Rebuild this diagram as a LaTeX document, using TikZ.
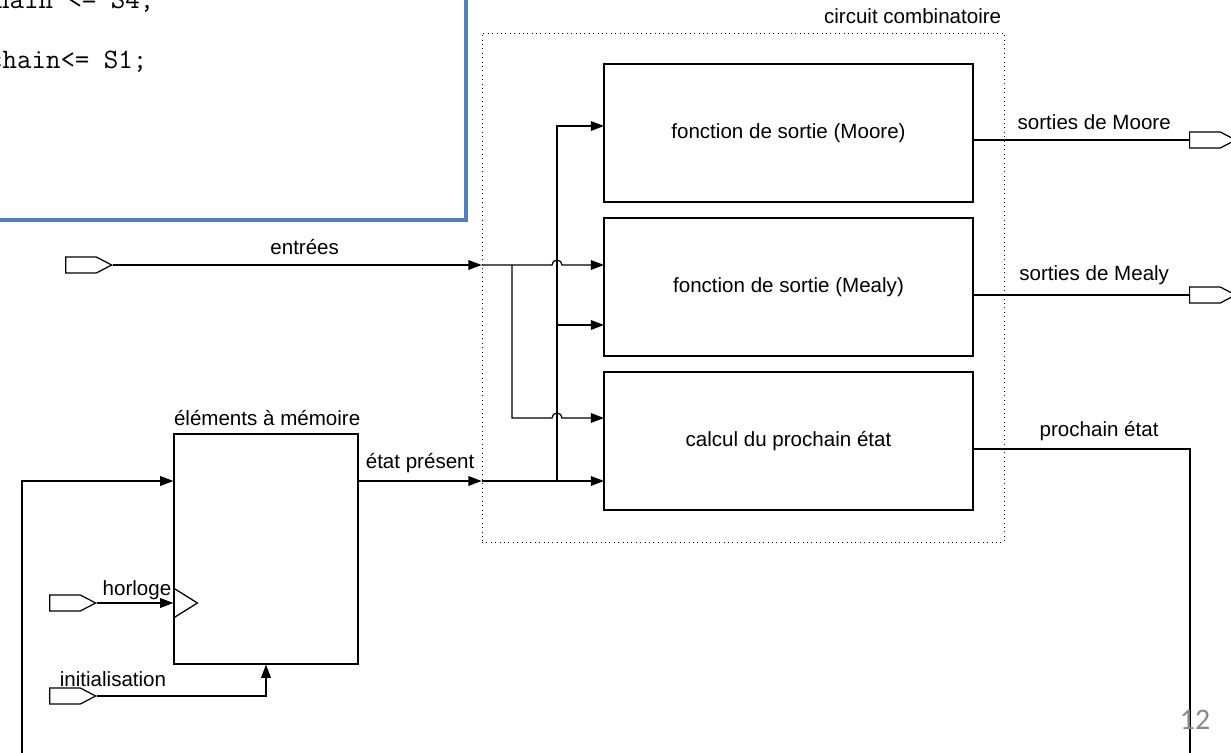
\documentclass[tikz,border=0pt]{standalone}
\usepackage{fontspec}
\setmainfont{Liberation Sans}
\newfontfamily\numfont{Carlito}
\usetikzlibrary{arrows.meta,shapes.symbols}
\definecolor{cadre}{RGB}{79,129,189}
\definecolor{numero}{RGB}{137,137,137}
\tikzset{
  bloc/.style={draw,minimum width=7.38cm,minimum height=2.76cm},
  port/.style={draw,shape=signal,signal to=east,signal pointer angle=55,
    minimum width=0.92cm,minimum height=0.32cm,inner sep=0pt},
  fil/.style={-{Triangle[length=7.5pt,width=5.5pt]}},
  etiq/.style={inner sep=1.5pt},
  code/.style={anchor=base east,inner sep=0pt,font=\ttfamily\fontsize{16}{18}\selectfont}
}
\begin{document}
\begin{tikzpicture}[x=0.02cm,y=-0.02cm,line width=0.7pt,
  font=\fontsize{11.7}{13}\selectfont]
\useasboundingbox (0,0) rectangle (1231,753);
\clip (0,0) rectangle (1231,753);

% code du diapo precedent
\draw[cadre,line width=2.2pt,fill=white] (-20,-20) rectangle (466,220);
\node[code] (code1) at (155,9) {prochain <= S4;};
\node[code] (code2) at (148,69) {prochain<= S1;};

% blocs
\node[draw,dotted,line width=0.5pt,minimum width=10.44cm,minimum height=10.18cm] (comb) at (743,287.5) {};
\node[anchor=south east,etiq,yshift=3pt] (lcomb) at (comb.north east) {circuit combinatoire};
\node[bloc] (moore) at (788.5,133) {fonction de sortie (Moore)};
\node[bloc] (mealy) at (788.5,287) {fonction de sortie (Mealy)};
\node[bloc] (suivant) at (788.5,441) {calcul du prochain état};
\node[draw,minimum width=3.68cm,minimum height=4.6cm] (memoire) at (266,549) {};
\node[anchor=south west,inner xsep=0pt,inner ysep=4pt] (lmem) at (memoire.north west) {éléments à mémoire};

% ports
\node[port,anchor=east] (pe) at (113,265) {};
\node[port,anchor=east] (ph) at (97,603) {};
\node[port,anchor=east] (pi) at (97,696) {};
\node[port,anchor=west] (pmo) at (1189,140) {};
\node[port,anchor=west] (pme) at (1189,295) {};

% points de connexion
\coordinate (in1) at (604,126);
\coordinate (in2) at (604,265);
\coordinate (in3) at (604,325);
\coordinate (in4) at (604,418);
\coordinate (in5) at (604,481);
\coordinate (fourche) at (512,265);
\coordinate (bus) at (557,481);
\coordinate (coin) at (1190,449);
\coordinate (fin) at (1190,770);
\coordinate (gauche) at (22,770);

% entrees
\draw[fil] (pe.east) -- node[above=4pt,etiq,pos=0.52] {entrées} (comb.west |- in2);
\draw[fil] (comb.west |- in2) -- ([xshift=-0.1cm]bus |- in2)
  arc[start angle=180,end angle=0,radius=0.1cm] -- (in2);
\draw[fil] (fourche) |- ([xshift=-0.1cm]bus |- in4)
  arc[start angle=180,end angle=0,radius=0.1cm] -- (in4);

% etat present
\draw[fil] (memoire.east |- in5) -- node[above=3pt,etiq] {état présent} (comb.west |- in5);
\draw[fil] (comb.west |- in5) -- (in5);
\draw[fil] (bus) |- (in1);
\draw[fil] (bus |- in3) -- (in3);

% sorties
\draw (moore.east |- pmo) -- node[above=4pt,etiq,pos=0.56] {sorties de Moore} (pmo.west);
\draw (mealy.east |- pme) -- node[above=4pt,etiq,pos=0.56] {sorties de Mealy} (pme.west);
\draw (suivant.east |- coin) -- node[above=3pt,etiq,pos=0.58] {prochain état} (coin) -- (fin);
\draw[fil] (gauche) |- (memoire.west |- in5);

% horloge et initialisation
\draw[fil] (ph.east) -- node[above,etiq,xshift=1pt] {horloge} (memoire.west |- ph.east);
\draw ([yshift=0.3cm]memoire.west |- ph.east) -- ([xshift=0.48cm]memoire.west |- ph.east)
  -- ([yshift=-0.3cm]memoire.west |- ph.east);
\draw[fil] (pi.east) -| (memoire.south);
\node[etiq] (linit) at (113,679) {initialisation};

\node[text=numero,font=\numfont\fontsize{17}{20}\selectfont] (page) at (1195,720) {12};
\end{tikzpicture}
\end{document}
